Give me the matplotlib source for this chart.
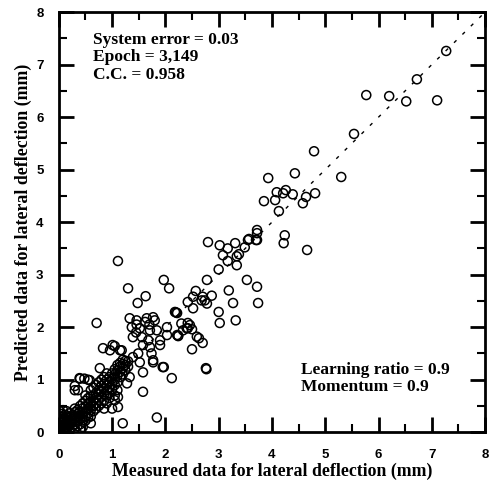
import matplotlib
matplotlib.use("Agg")
import matplotlib.pyplot as plt
import numpy as np

# Measured (x) and predicted (y) lateral deflection (mm) -- sparse points
meas_sparse = [7.27, 6.72, 5.77, 6.20, 6.52, 7.10, 5.54, 4.79, 4.43, 3.93, 5.30, 4.09, 4.26, 4.21,
               4.39, 4.81, 4.64, 4.58, 3.85, 4.06, 4.13, 3.72, 3.57, 3.70, 3.49, 4.24, 4.22, 4.66,
               2.80, 3.02, 3.31, 3.55, 3.72, 3.72, 3.17, 3.08, 3.38, 3.34, 3.17, 3.34, 3.00, 2.78,
               1.97, 2.07, 3.53, 3.72, 3.19, 2.57, 2.52, 2.70, 2.87, 2.42, 2.74, 2.68, 2.78, 3.27,
               3.74, 2.52, 3.00, 2.22, 3.02, 3.32, 2.42, 2.42, 2.33, 2.50, 2.24, 2.03, 2.03, 2.63,
               2.70, 2.50, 1.97, 2.76, 1.77, 1.11, 1.30, 0.71, 1.48, 1.63, 1.84, 1.20, 1.58, 2.12,
               1.95, 2.77, 2.59, 2.24, 2.40, 2.46, 2.30, 2.20, 2.18, 2.22]
pred_sparse = [7.26, 6.72, 6.42, 6.40, 6.30, 6.32, 5.68, 5.35, 4.93, 4.84, 4.86, 4.57, 4.61, 4.55,
               4.53, 4.55, 4.48, 4.36, 4.40, 4.42, 4.21, 3.85, 3.68, 3.66, 3.52, 3.75, 3.60, 3.47,
               3.62, 3.56, 3.60, 3.66, 3.79, 3.66, 3.50, 3.37, 3.39, 3.35, 3.26, 3.18, 3.10, 2.90,
               2.90, 2.74, 2.90, 2.77, 2.70, 2.69, 2.58, 2.58, 2.60, 2.48, 2.51, 2.51, 2.45, 2.46,
               2.46, 2.36, 2.29, 2.27, 2.08, 2.13, 2.08, 1.98, 1.94, 1.96, 1.83, 2.00, 1.85, 1.79,
               1.70, 1.58, 1.24, 1.22, 1.33, 3.26, 2.74, 2.08, 2.46, 2.59, 0.28, 0.17, 0.77, 1.03,
               1.24, 1.20, 1.82, 1.84, 1.98, 2.04, 2.07, 2.28, 2.29, 1.85]

# Cluster around (1.3-2.0, 1.3-2.2)
meas_mid = [1.33, 1.46, 1.65, 1.77, 1.80, 1.37, 1.52, 1.71, 1.84, 1.39, 1.56, 1.68, 1.90, 1.58,
            1.71, 1.90, 1.49, 1.74, 1.77, 1.52, 1.39, 0.83, 0.96, 1.05, 1.15, 0.77, 0.39, 0.58,
            0.36, 1.05, 1.11, 1.11, 1.28, 1.33, 1.58, 1.01, 1.18, 1.46, 1.62, 1.70, 1.45]
pred_mid = [2.17, 2.13, 2.17, 2.19, 2.13, 2.00, 1.98, 1.94, 1.94, 1.81, 1.81, 1.75, 1.75, 1.66,
            1.62, 1.66, 1.50, 1.50, 1.37, 1.33, 1.43, 1.60, 1.56, 1.64, 1.56, 1.22, 1.03, 0.99,
            0.80, 0.61, 0.48, 0.67, 0.93, 1.05, 1.14, 1.66, 1.56, 2.05, 2.10, 2.05, 1.90]

# Dense cluster near the origin (read column by column)
dense_cols = {
    0.02: [0.05, 0.12, 0.20, 0.30, 0.40],
    0.05: [0.03, 0.10, 0.18, 0.25, 0.35],
    0.08: [0.06, 0.14, 0.22, 0.30, 0.42],
    0.12: [0.04, 0.10, 0.17, 0.26, 0.33],
    0.15: [0.08, 0.15, 0.22, 0.30, 0.40],
    0.20: [0.05, 0.12, 0.20, 0.28, 0.36],
    0.25: [0.10, 0.18, 0.25, 0.32],
    0.30: [0.07, 0.15, 0.22, 0.30, 0.38, 0.45, 0.80, 0.88],
    0.35: [0.12, 0.20, 0.28, 0.35, 0.42],
    0.40: [0.15, 0.25, 0.33, 0.40, 0.50, 1.02],
    0.45: [0.10, 0.20, 0.30, 0.38, 0.46, 0.55],
    0.48: [1.02],
    0.50: [0.22, 0.30, 0.40, 0.48, 0.60, 0.70],
    0.55: [0.28, 0.36, 0.45, 0.55, 0.65, 1.00],
    0.60: [0.17, 0.30, 0.42, 0.50, 0.58, 0.68, 0.80],
    0.65: [0.40, 0.50, 0.60, 0.70, 0.85],
    0.70: [0.45, 0.55, 0.65, 0.75, 0.90],
    0.75: [0.50, 0.62, 0.72, 0.80, 0.95],
    0.80: [0.55, 0.68, 0.78, 0.88, 1.00],
    0.85: [0.45, 0.60, 0.72, 0.82, 0.92, 1.05],
    0.90: [0.55, 0.70, 0.80, 0.90, 1.00, 1.12],
    0.95: [0.65, 0.75, 0.85, 0.95, 1.05],
    1.00: [0.45, 0.82, 0.92, 1.02, 1.12],
    1.05: [0.70, 0.90, 1.00, 1.10, 1.20],
    1.10: [0.80, 0.95, 1.08, 1.18, 1.28],
    1.15: [1.05, 1.15, 1.25, 1.32],
    1.20: [1.10, 1.22, 1.30, 1.38],
    1.25: [1.18, 1.28, 1.36],
    1.30: [1.25, 1.35],
}

meas_dense = [x for x, ys in dense_cols.items() for _ in ys]
pred_dense = [y for ys in dense_cols.values() for y in ys]

measured = meas_sparse + meas_mid + meas_dense
predicted = pred_sparse + pred_mid + pred_dense

fig = plt.figure(figsize=(4.90, 4.84), dpi=100)
ax = fig.add_axes([0.12, 0.107, 0.87, 0.868])

ax.plot([0, 8], [0, 8], color="black", lw=1.0, linestyle=(0, (2.5, 6)), zorder=1)
ax.scatter(measured, predicted, s=42, facecolors="none", edgecolors="black",
           linewidths=1.1, zorder=2)

ax.set_xlim(0, 8)
ax.set_ylim(0, 8)
ax.set_xticks(range(0, 9))
ax.set_yticks(range(0, 9))
ax.set_xticks(np.arange(0.5, 8, 1.0), minor=True)
ax.set_yticks(np.arange(0.5, 8, 1.0), minor=True)
ax.tick_params(which="major", direction="in", length=11, width=2, top=True, right=True,
               labelsize=9.5)
ax.tick_params(axis="x", which="major", pad=12)
ax.tick_params(axis="y", which="major", pad=11)
ax.tick_params(which="minor", direction="in", length=6, width=1.5, top=True, right=True)
for lab in ax.get_xticklabels() + ax.get_yticklabels():
    lab.set_fontweight("bold")
    lab.set_family("Liberation Sans")
for sp in ax.spines.values():
    sp.set_linewidth(2)

serif = "Liberation Serif"
ax.set_xlabel("Measured data for lateral deflection (mm)", family=serif, fontweight="bold",
              fontsize=12.8, labelpad=1)
ax.set_ylabel("Predicted data for lateral deflection (mm)", family=serif, fontweight="bold",
              fontsize=12.8, labelpad=3)

ax.text(0.64, 7.62, "System error = 0.03\nEpoch = 3,149\nC.C. = 0.958", family=serif,
        fontweight="bold", fontsize=12.5, va="top", ha="left", linespacing=1.12)
ax.text(4.54, 1.33, "Learning ratio = 0.9\nMomentum = 0.9", family=serif,
        fontweight="bold", fontsize=12.5, va="top", ha="left", linespacing=1.05)

fig.savefig("out.png", dpi=100)
